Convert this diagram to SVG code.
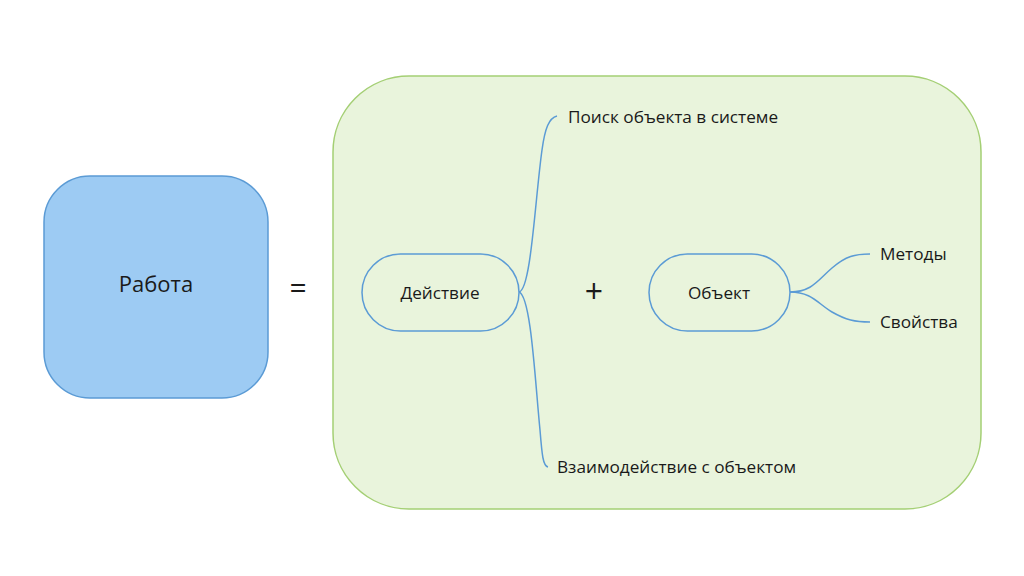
<svg xmlns="http://www.w3.org/2000/svg" width="1024" height="576" viewBox="0 0 1024 576">
<style>
text{font-family:"Open Sans","Noto Sans","Liberation Sans",sans-serif;fill:#1a1a1a}
.lbl{font-size:17.2px}
.pill{fill:#e9f4dc;stroke:#5b9bd5;stroke-width:1.5}
.conn{fill:none;stroke:#5b9bd5;stroke-width:1.5}
</style>
<rect width="1024" height="576" fill="#ffffff"/>
<g id="rabota">
<rect x="44" y="176" width="224" height="222" rx="46" fill="#9dcbf3" stroke="#5b9bd5" stroke-width="1.5"/>
<text x="156" y="292" font-size="22" text-anchor="middle">Работа</text>
</g>
<g id="equals"><text x="298" y="298" font-size="30" text-anchor="middle">=</text></g>
<g id="container">
<rect x="333" y="76" width="648" height="433" rx="76" fill="#e9f4dc" stroke="#a4cf74" stroke-width="1.5"/>
</g>
<g id="connectors">
<path class="conn" d="M519,292 C531,290 535,200 542,150 C545,128 549,118 557,116"/>
<path class="conn" d="M519,292 C531,296 535,380 540,430 C542,455 543,466 548,467"/>
<path class="conn" d="M790,292 C812,292 818,280 832,268 C846,256 855,254 870,254"/>
<path class="conn" d="M790,292 C812,292 818,304 832,312 C846,320 855,322 870,322"/>
</g>
<g id="deistvie">
<rect class="pill" x="362" y="254" width="157" height="77" rx="38.5"/>
<text class="lbl" x="440" y="299" text-anchor="middle">Действие</text>
</g>
<g id="plus"><text x="594" y="303" font-size="32" text-anchor="middle">+</text></g>
<g id="obekt">
<rect class="pill" x="649" y="254" width="141" height="77" rx="38.5"/>
<text class="lbl" x="719" y="299" text-anchor="middle">Объект</text>
</g>
<g id="poisk"><text class="lbl" x="568" y="123">Поиск объекта в системе</text></g>
<g id="vzaimo"><text class="lbl" x="557" y="473">Взаимодействие с объектом</text></g>
<g id="metody"><text class="lbl" x="880" y="260">Методы</text></g>
<g id="svoistva"><text class="lbl" x="880" y="328">Свойства</text></g>
</svg>
